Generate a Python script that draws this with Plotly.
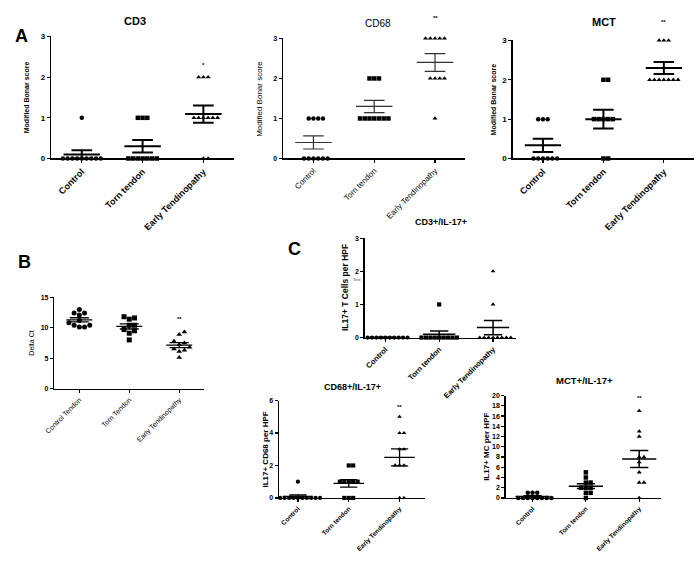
import numpy as np
import plotly.graph_objects as go

W, H = 700, 561

# ---------------- data ----------------
cats_A = ["Control", "Torn tendon", "Early Tendinopathy"]
cats_B = ["Control Tendon", "Torn Tendon", "Early Tendinopathy"]

cd3_control = [1, 0, 0, 0, 0, 0, 0, 0, 0, 0]
cd3_torn = [1, 1, 1, 0, 0, 0, 0, 0, 0, 0]
cd3_early = [2, 2, 2, 1, 1, 1, 1, 1, 1, 0, 0]

cd68_control = [1, 1, 1, 1, 0, 0, 0, 0, 0, 0]
cd68_torn = [2, 2, 2, 1, 1, 1, 1, 1, 1, 1]
cd68_early = [3, 3, 3, 3, 3, 2, 2, 2, 2, 1]

mct_control = [1, 1, 1, 0, 0, 0, 0, 0, 0]
mct_torn = [2, 2, 1, 1, 1, 1, 1, 0, 0]
mct_early = [3, 3, 3, 2, 2, 2, 2, 2, 2, 2]

dct_control = [13.0, 12.4, 12.1, 12.4, 11.2, 10.8, 10.4, 10.1, 10.1, 10.4]
dct_torn = [11.6, 11.4, 11.8, 10.4, 10.4, 9.5, 9.7, 9.1, 8.0]
dct_early = [9.3, 8.9, 7.8, 7.5, 7.2, 6.8, 6.5, 6.3, 6.1, 5.1]

il17_cd3_control = [0, 0, 0, 0, 0, 0, 0, 0, 0, 0]
il17_cd3_torn = [1, 0, 0, 0, 0, 0, 0, 0, 0, 0]
il17_cd3_early = [2, 1, 0, 0, 0, 0, 0, 0, 0, 0]

il17_cd68_control = [1, 0, 0, 0, 0, 0, 0, 0, 0, 0, 0]
il17_cd68_torn = [2, 2, 1, 1, 1, 1, 1, 0, 0, 0]
il17_cd68_early = [5, 4, 4, 3, 3, 2, 2, 2, 0, 0]

il17_mct_control = [1, 1, 1, 0, 0, 0, 0, 0, 0, 0, 0]
il17_mct_torn = [5, 4, 3, 3, 2, 2, 2, 1, 1, 0]
il17_mct_early = [17, 13, 12, 8, 8, 7, 5, 3, 3, 0]

# ---------------- panel specs (layout only) ----------------
panels = [
    dict(title="CD3", groups=[cd3_control, cd3_torn, cd3_early], cats=cats_A,
         box=(42, 33, 227, 157), xr=(-0.5, 2.5), yr=(0, 3), dtick=1,
         ytitle="Modified Bonar score", ytx=17, ytsize=7, tpos=(127, 17), tsize=11,
         star=("*", 2.3), tick=9, ytick=8, bold=True, lw=2, ms=4.5,
         mhw=0.3, chw=0.17, lc="black"),
    dict(title="CD68", groups=[cd68_control, cd68_torn, cd68_early], cats=cats_A,
         box=(277, 35, 462, 157), xr=(-0.5, 2.5), yr=(0, 3), dtick=1,
         ytitle="Modified Bonar score", ytx=253, ytsize=8, tpos=(373, 20), tsize=10,
         star=("**", 3.5), tick=8, ytick=7, bold=False, lw=1.2, ms=4.5,
         mhw=0.3, chw=0.17, lc="#333333"),
    dict(title="MCT", groups=[mct_control, mct_torn, mct_early], cats=cats_A,
         box=(510, 37, 694, 157), xr=(-0.5, 2.5), yr=(0, 3), dtick=1,
         ytitle="Modified Bonar score", ytx=490, ytsize=7, tpos=(603, 18), tsize=11,
         star=("**", 3.47), tick=9, ytick=8, bold=True, lw=2, ms=4.5,
         mhw=0.3, chw=0.17, lc="black"),
    dict(title=None, groups=[dct_control, dct_torn, dct_early], cats=cats_B,
         box=(45, 298, 197, 391), xr=(-0.5, 2.5), yr=(0, 15), dtick=5,
         ytitle="Delta Ct", ytx=22, ytsize=7, tpos=None, tsize=10,
         star=("**", 11.5), tick=7, ytick=7, bold=False, lw=1.3, ms=5,
         mhw=0.26, chw=0.19, lc="black"),
    dict(title="CD3+/IL-17+", groups=[il17_cd3_control, il17_cd3_torn, il17_cd3_early], cats=cats_A,
         box=(360, 238, 513, 339), xr=(-0.38, 2.42), yr=(0, 3), dtick=1,
         ytitle="IL17+ T Cells per HPF", ytx=340, ytsize=8.5, tpos=(437, 222), tsize=9,
         star=None, tick=7.5, ytick=7, bold=True, lw=1.5, ms=4.2,
         mhw=0.3, chw=0.17, lc="black"),
    dict(title="CD68+/IL-17+", groups=[il17_cd68_control, il17_cd68_torn, il17_cd68_early], cats=cats_A,
         box=(273, 403, 421, 502), xr=(-0.37, 2.5), yr=(0, 6), dtick=2,
         ytitle="IL17+ CD68 per HPF", ytx=259, ytsize=8, tpos=(347, 389), tsize=9,
         star=("**", 5.6), tick=6.5, ytick=7, bold=True, lw=1.3, ms=4.2,
         mhw=0.3, chw=0.17, lc="black"),
    dict(title="MCT+/IL-17+", groups=[il17_mct_control, il17_mct_torn, il17_mct_early], cats=cats_A,
         box=(503, 398, 660, 502), xr=(-0.5, 2.4), yr=(0, 20), dtick=2,
         ytitle="IL17+ MC per HPF", ytx=484, ytsize=8, tpos=(583, 383), tsize=9.5,
         star=("**", 19.5), tick=6.5, ytick=7, bold=True, lw=1.5, ms=4.5,
         mhw=0.32, chw=0.17, lc="black"),
]

symbols = ["circle", "square", "triangle-up"]
FONT = "Liberation Sans, Arial, sans-serif"


def px(x):
    return x / W


def py(y):
    return 1 - y / H


def swarm(values, center, sx, sy, d):
    """Beeswarm offsets computed in pixel space."""
    order = sorted(range(len(values)), key=lambda i: values[i])
    placed = []
    xs = [0.0] * len(values)
    cands = [0]
    for m in range(1, 60):
        cands += [m * 0.5, -m * 0.5]
    for i in order:
        yp = values[i] * sy
        for c in cands:
            xp = c * d
            if all((xp - a) ** 2 + (yp - b) ** 2 >= (d * 0.98) ** 2 for a, b in placed):
                placed.append((xp, yp))
                xs[i] = center + xp / sx
                break
    return xs


def note(x, y, text, size, weight="bold", angle=0, color="black"):
    return dict(x=px(x), y=py(y), xref="paper", yref="paper", text=text,
                textangle=angle, showarrow=False, xanchor="center", yanchor="middle",
                font=dict(family=FONT, size=size, color=color, weight=weight))


fig = go.Figure()
annotations = []
layout = {}

for k, p in enumerate(panels):
    n = k + 1
    xa = "x" if n == 1 else f"x{n}"
    ya = "y" if n == 1 else f"y{n}"
    xkey = "xaxis" if n == 1 else f"xaxis{n}"
    ykey = "yaxis" if n == 1 else f"yaxis{n}"
    x0, y0, x1, y1 = p["box"]
    sx = (x1 - x0) / (p["xr"][1] - p["xr"][0])
    sy = (y1 - y0) / (p["yr"][1] - p["yr"][0])
    weight = "bold" if p["bold"] else "normal"

    for gi, vals in enumerate(p["groups"]):
        xs = swarm(vals, gi, sx, sy, p["ms"] + 0.3)
        fig.add_trace(go.Scatter(
            x=xs, y=vals, mode="markers", xaxis=xa, yaxis=ya,
            marker=dict(symbol=symbols[gi], size=p["ms"], color="black", line=dict(width=0)),
            cliponaxis=False, showlegend=False, hoverinfo="skip"))
        arr = np.array(vals, dtype=float)
        m = arr.mean()
        sem = arr.std(ddof=1) / np.sqrt(len(arr))
        lx = [gi - p["mhw"], gi + p["mhw"], None,
              gi - p["chw"], gi + p["chw"], None,
              gi - p["chw"], gi + p["chw"], None,
              gi, gi]
        ly = [m, m, None, m + sem, m + sem, None, m - sem, m - sem, None, m - sem, m + sem]
        fig.add_trace(go.Scatter(
            x=lx, y=ly, mode="lines", xaxis=xa, yaxis=ya,
            line=dict(color=p["lc"], width=p["lw"]),
            cliponaxis=False, showlegend=False, hoverinfo="skip"))

    layout[xkey] = dict(
        domain=[px(x0), px(x1)], range=list(p["xr"]), anchor=ya,
        tickmode="array", tickvals=[0, 1, 2], ticktext=p["cats"], tickangle=-45,
        tickfont=dict(family=FONT, size=p["tick"], color="black", weight=weight),
        showline=True, linecolor="black", linewidth=1.5, ticks="outside",
        ticklen=3, tickwidth=1.2, tickcolor="black", showgrid=False, zeroline=False)
    layout[ykey] = dict(
        domain=[py(y1), py(y0)], range=list(p["yr"]), anchor=xa,
        tickmode="linear", tick0=0, dtick=p["dtick"],
        tickfont=dict(family=FONT, size=p["ytick"], color="black", weight="bold"),
        showline=True, linecolor="black", linewidth=1.5, ticks="outside",
        ticklen=3, tickwidth=1.2, tickcolor="black", showgrid=False, zeroline=False)

    annotations.append(note(p["ytx"], (y0 + y1) / 2, p["ytitle"], p["ytsize"], weight, angle=-90))
    if p["title"]:
        annotations.append(note(p["tpos"][0], p["tpos"][1], p["title"], p["tsize"], weight))
    if p["star"]:
        # star placed over the third group, converted to paper coordinates
        sxp = x0 + (2 - p["xr"][0]) * sx
        syp = y1 - (p["star"][1] - p["yr"][0]) * sy
        annotations.append(note(sxp, syp, p["star"][0], 6))

# panel letters
for letter, (lx, ly) in {"A": (12, 33), "B": (15, 262), "C": (289, 249)}.items():
    annotations.append(note(lx, ly, letter, 18))

# stray label in panel C
annotations.append(note(352, 280, "Text", 4, weight="normal", color="#444444"))

fig.update_layout(
    width=W, height=H, margin=dict(l=0, r=0, t=0, b=0),
    paper_bgcolor="white", plot_bgcolor="white",
    annotations=annotations, showlegend=False, **layout)

fig.write_html(
    "out.html",
    config={"displayModeBar": False, "staticPlot": True},
    post_script="document.body.style.margin='0px';"
                "document.body.style.overflow='hidden';"
                "document.documentElement.style.overflow='hidden';")
